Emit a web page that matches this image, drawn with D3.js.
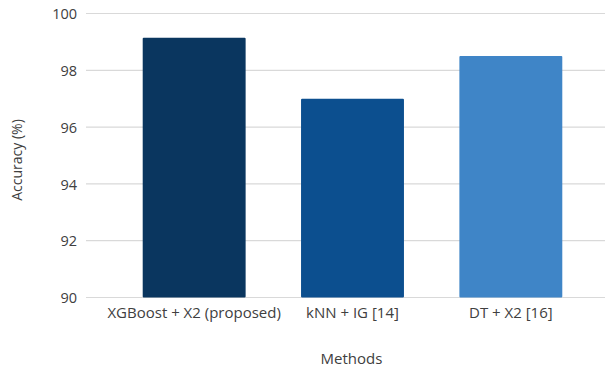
<!DOCTYPE html>
<html>
<head>
<meta charset="utf-8">
<script src="https://cdn.jsdelivr.net/npm/d3@7"></script>
<style>
  html, body { margin: 0; padding: 0; background: #fff; }
  svg { display: block; font-family: "Open Sans", "Noto Sans", sans-serif; }
</style>
</head>
<body>
<svg id="chart" width="605" height="372"></svg>
<script>
// Accuracy of each method
const methods = ["XGBoost + X2 (proposed)", "kNN + IG [14]", "DT + X2 [16]"];
const accuracy = [99.15, 97.0, 98.5];
const barColors = ["#0a365f", "#0c4f8f", "#3f85c7"];
const yTicks = [90, 92, 94, 96, 98, 100];

const svg = d3.select("#chart");
const textColor = "#404040";

const gridLeft = 86, gridRight = 605;
const x = d3.scaleBand().domain(methods).range([115, 590]).paddingInner(0.35).paddingOuter(0.175);
const y = d3.scaleLinear().domain([90, 100]).range([297.5, 13.5]);

// horizontal gridlines
svg.append("g").selectAll("line").data(yTicks).join("line")
  .attr("x1", gridLeft).attr("x2", gridRight)
  .attr("y1", d => y(d)).attr("y2", d => y(d))
  .attr("stroke", "#d9d9d9").attr("stroke-width", 1.2);

// y axis tick labels
const yAxis = d3.axisLeft(y).tickValues(yTicks).tickSize(0).tickPadding(0);
const gy = svg.append("g").attr("transform", "translate(77,0.5)").call(yAxis);
gy.select(".domain").remove();
gy.selectAll("text").attr("fill", textColor).style("font-size", "14.5px")
  .style("font-family", "'Open Sans', sans-serif");

// bars
svg.append("g").selectAll("rect").data(methods).join("rect")
  .attr("x", d => x(d))
  .attr("width", x.bandwidth())
  .attr("y", (d, i) => y(accuracy[i]))
  .attr("height", (d, i) => y(90) - y(accuracy[i]))
  .attr("rx", 1)
  .attr("fill", (d, i) => barColors[i]);

// x axis category labels
const xAxis = d3.axisBottom(x).tickSize(0).tickPadding(0);
const gx = svg.append("g").attr("transform", "translate(0,307)").call(xAxis);
gx.select(".domain").remove();
gx.selectAll("text").attr("fill", textColor).style("font-size", "15px")
  .style("font-family", "'Open Sans', sans-serif");

// axis titles
svg.append("text")
  .attr("x", 351.5).attr("y", 364)
  .attr("text-anchor", "middle")
  .attr("fill", textColor).style("font-size", "15px")
  .text("Methods");

svg.append("text")
  .attr("transform", "translate(22,160) rotate(-90)")
  .attr("text-anchor", "middle")
  .attr("fill", textColor).style("font-size", "14px")
  .text("Accuracy (%)");
</script>
</body>
</html>
